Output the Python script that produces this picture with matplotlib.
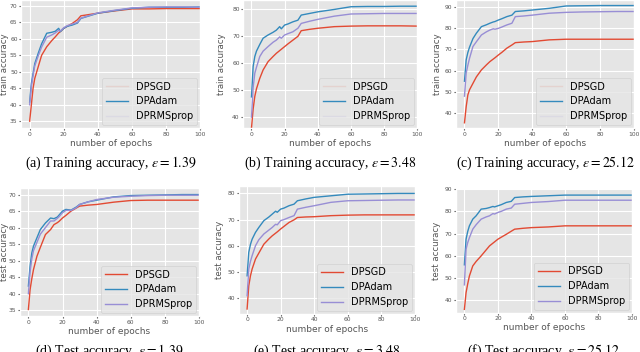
import matplotlib.pyplot as plt

plt.style.use('ggplot')
plt.rcParams['mathtext.fontset'] = 'stix'

epochs = [0, 1, 2, 3, 5, 7, 10, 13, 15, 17, 18, 20, 22, 25, 28, 30, 35, 40, 50, 60, 70, 80, 90, 100]

# (a) train, eps = 1.39
a_sgd = [35, 40, 45, 48, 51.5, 55, 57.6, 59.5, 60.6, 61.8, 62.2, 63.2, 63.8, 64.7, 65.8, 67, 67.4, 67.8, 68.5, 69.1, 69.1, 69.2, 69.2, 69.2]
a_adam = [40.8, 46.4, 49.5, 52.5, 55.6, 58.5, 61.7, 62, 62.3, 63.2, 62.2, 63.2, 63.8, 64.2, 64.8, 66.2, 67, 67.8, 68.6, 69.3, 69.6, 69.6, 69.6, 69.7]
a_rms = [40, 45.5, 48.8, 51.8, 54.8, 57.5, 60.5, 61.2, 61.8, 62.6, 62.4, 63.4, 64, 64.5, 65, 66.3, 67.1, 67.9, 68.7, 69.4, 69.6, 69.7, 69.7, 69.6]
# (b) train, eps = 3.48
b_sgd = [36, 43, 47.7, 50.5, 54.4, 57.5, 60.6, 62.5, 63.7, 64.7, 65.2, 66.2, 67.2, 68.6, 70, 72.1, 72.6, 73, 73.6, 73.8, 73.9, 73.9, 73.9, 73.8]
b_adam = [47.5, 58.8, 62.5, 64.5, 67, 69.3, 70.5, 71.5, 72.3, 73.6, 72.8, 74.2, 74.6, 75.4, 76, 77.9, 78.5, 79.1, 80, 81, 81.1, 81.1, 81.2, 81.2]
b_rms = [40, 51, 56.3, 58.5, 62.5, 64.5, 66.2, 67.8, 68.6, 69.8, 69.3, 70.5, 71, 71.7, 73, 74.8, 75.6, 76.3, 77.5, 78.3, 78.4, 78.5, 78.5, 78.5]
# (c) train, eps = 25.12
c_sgd = [35.5, 43, 48.6, 51, 54, 57, 60.3, 62.7, 64.2, 65.4, 66, 67.3, 68.5, 70.5, 72, 73.1, 73.4, 73.6, 74.4, 74.7, 74.7, 74.7, 74.7, 74.7]
c_adam = [55, 65, 68.5, 71, 75, 77.5, 80.6, 81.5, 82.2, 82.8, 83, 83.7, 84.3, 85.3, 86, 87.7, 88, 88.4, 89.2, 90.3, 90.4, 90.5, 90.5, 90.5]
c_rms = [48, 58.8, 62.5, 65.8, 71.3, 73.5, 76.7, 78.2, 79, 79.6, 79.4, 79.8, 80.4, 81.4, 82.2, 85.3, 85.6, 86, 86.9, 87.3, 87.5, 87.6, 87.7, 87.7]
# (d) test, eps = 1.39
d_sgd = [35.2, 41.2, 44.5, 47.3, 51.3, 54, 57.9, 59.4, 60.9, 61.5, 61.9, 62.9, 63.7, 65, 65.9, 66.5, 66.8, 67, 67.7, 68.2, 68.3, 68.3, 68.3, 68.3]
d_adam = [42.3, 48.3, 52.3, 54.4, 56.9, 59.4, 61.4, 62.9, 62.7, 63.2, 63.8, 65, 65.5, 65.3, 66.2, 67, 67.8, 68.3, 69.3, 69.7, 69.8, 69.9, 70, 70]
d_rms = [40, 46.5, 50.5, 53, 55.5, 58, 60, 62, 62, 62.8, 63.3, 64.5, 65.2, 65.2, 66, 67, 67.8, 68.5, 69.2, 69.5, 69.7, 69.8, 69.8, 69.8]
# (e) test, eps = 3.48
e_sgd = [35.8, 44.7, 48.5, 51.1, 54.9, 57.2, 60.6, 62.6, 63.8, 64.8, 65.3, 66.4, 67.4, 68.9, 69.9, 70.8, 71, 71.1, 71.5, 71.7, 71.8, 71.8, 71.8, 71.8]
e_adam = [48.5, 57.5, 60.5, 62.5, 65.1, 67, 69.6, 71, 72.1, 73.2, 72.8, 74, 74.4, 75.3, 75.9, 77.2, 77.9, 78.5, 79.1, 79.7, 79.8, 79.9, 80, 80]
e_rms = [40.9, 51.1, 54, 56.2, 60, 62.3, 64.5, 66, 67, 68.2, 68, 69.6, 70, 70.8, 71.5, 74, 74.7, 75.3, 76.6, 77.2, 77.3, 77.4, 77.5, 77.5]
# (f) test, eps = 25.12
f_sgd = [36, 43.5, 47.5, 51, 55.5, 57.5, 60, 62.7, 64.5, 65.7, 66.3, 67.5, 68.4, 69.7, 71.1, 72, 72.4, 72.7, 73, 73.5, 73.5, 73.5, 73.5, 73.5]
f_adam = [56, 67.5, 71, 73.5, 76.5, 78, 81, 81.3, 81.7, 82.2, 82, 82.5, 83, 84, 84.5, 86.2, 86.5, 86.7, 87, 87.3, 87.3, 87.3, 87.3, 87.3]
f_rms = [47, 63, 66, 68.2, 72, 74, 76.5, 77.5, 78, 79, 78.8, 79.5, 80, 81, 81.5, 83.2, 83.6, 84, 84.4, 85, 85, 85, 85, 85]

captions = [r"(a) Training accuracy, $\epsilon = 1.39$",
            r"(b) Training accuracy, $\epsilon = 3.48$",
            r"(c) Training accuracy, $\epsilon = 25.12$",
            r"(d) Test accuracy, $\epsilon = 1.39$",
            r"(e) Test accuracy, $\epsilon = 3.48$",
            r"(f) Test accuracy, $\epsilon = 25.12$"]
names = ['DPSGD', 'DPAdam', 'DPRMSprop']

# series, axes rect, ylim, ylabel, ylabel x (axes coords)
panels = [
    ([a_sgd, a_adam, a_rms], [0.033, 0.636, 0.280, 0.364], (32.9, 71.8), 'train accuracy', -0.067),
    ([b_sgd, b_adam, b_rms], [0.380, 0.636, 0.272, 0.364], (35.9, 83.5), 'train accuracy', -0.098),
    ([c_sgd, c_adam, c_rms], [0.7125, 0.636, 0.278, 0.364], (33.0, 93.1), 'train accuracy', -0.076),
    ([d_sgd, d_adam, d_rms], [0.031, 0.102, 0.280, 0.364], (33.2, 72.0), 'test accuracy', -0.062),
    ([e_sgd, e_adam, e_rms], [0.373, 0.108, 0.275, 0.364], (33.9, 82.9), 'test accuracy', -0.082),
    ([f_sgd, f_adam, f_rms], [0.7125, 0.111, 0.275, 0.355], (34.4, 90.5), 'test accuracy', -0.085),
]

fig = plt.figure(figsize=(6.4, 3.52), dpi=100)
colors = ['#E24A33', '#348ABD', '#988ED5']

for i, (series, pos, ylim, ylab, ylx) in enumerate(panels):
    ax = fig.add_axes(pos)
    for s, c, n in zip(series, colors, names):
        ax.plot(epochs, s, color=c, lw=1.0, label=n)
    ax.set_xlim(-5, 100)
    ax.set_ylim(*ylim)
    ax.set_xticks([0, 20, 40, 60, 80, 100])
    ax.tick_params(labelsize=4.3, length=1.5, pad=1)
    ax.set_xlabel('number of epochs', fontsize=6.5, labelpad=1.5)
    ax.set_ylabel(ylab, fontsize=6.2)
    ax.yaxis.set_label_coords(ylx, 0.5)
    leg = ax.legend(loc='lower right', fontsize=7, handlelength=2.3, borderaxespad=0.3)
    if i < 3:
        # the top row legend shows faint handles for DPSGD and DPRMSprop
        for j in (0, 2):
            leg.get_lines()[j].set_alpha(0.12)
    cx = pos[0] + pos[2] / 2
    cy = 1 - 163 / 352 if i < 3 else 1 - 351 / 352
    fig.text(cx, cy, captions[i], ha='center', va='center', fontsize=10,
             family='Liberation Serif', color='black')

fig.savefig('out.png', dpi=100, facecolor='white')
